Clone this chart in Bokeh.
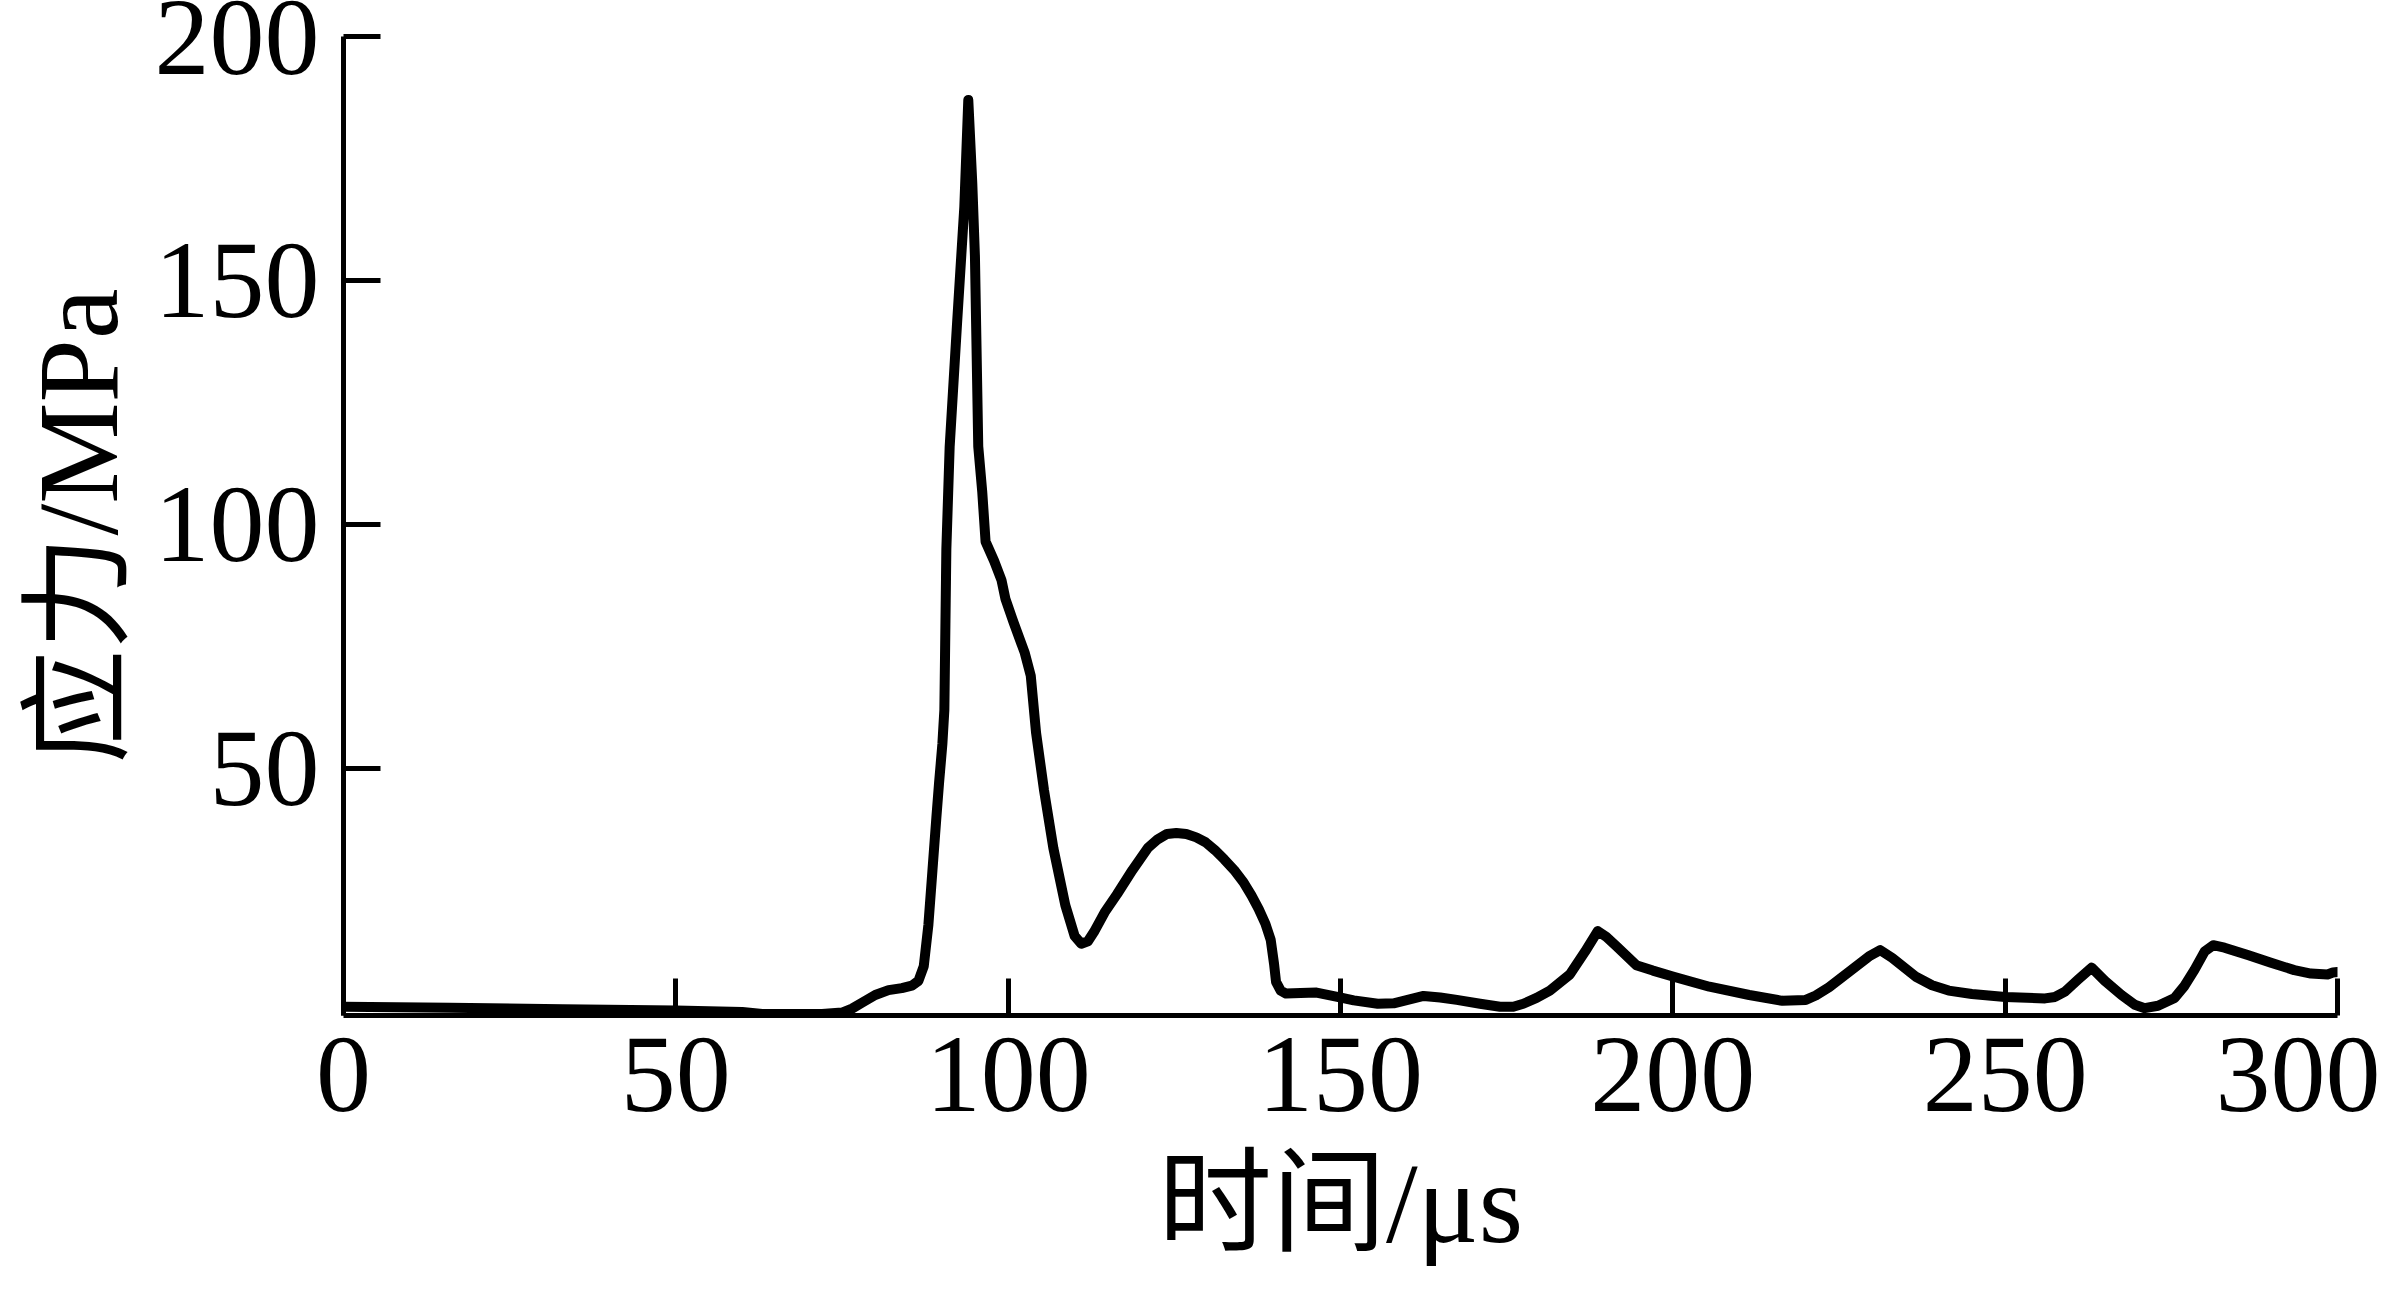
from bokeh.plotting import figure
from bokeh.models import Range1d, FixedTicker
from bokeh.embed import file_html
from bokeh.resources import INLINE

# data (time in µs, stress in MPa)
time_us = [0, 16, 33, 50, 60, 63, 72, 75, 76.5, 78, 80, 82, 84, 85.5, 86.5, 87.3, 88, 88.6,
           89.2, 89.6, 90.1, 90.4, 90.7, 91.2, 92.3, 93.4, 94.0, 94.6, 95.0, 95.5, 96.1, 96.6,
           97.9, 99.0, 99.6, 100.8, 102.5, 103.4, 104.2, 105.4, 106.8, 108.6, 110, 111, 112,
           112.9, 114.5, 116.4, 118.7, 121, 122.5, 123.9, 125.3, 126.8, 128.3, 129.7, 131.1,
           132.5, 134, 135.4, 136.6, 137.7, 138.7, 139.5, 140, 140.3, 141, 141.8, 144, 146.4,
           149.9, 152, 155.6, 158, 162.5, 165, 167.5, 171, 174, 176, 177.5, 179.5, 181.5, 184.5,
           186.8, 188.7, 190, 191.5, 194.5, 197, 200, 205.5, 211.5, 216.5, 220, 221.5, 223.5,
           227.5, 229.5, 231.2, 233, 236.5, 239, 241.5, 245, 250, 256, 257.5, 259, 261, 263,
           265, 267.5, 269.5, 271, 273, 275.5, 277, 278.5, 280, 281.3, 283, 286.5, 290, 293.5,
           296, 298.5, 299.3, 300]
stress_mpa = [1.2, 1.0, 0.7, 0.4, 0.1, -0.3, -0.3, 0.0, 0.8, 2.0, 3.6, 4.6, 5.0, 5.5, 6.5, 9.5,
              18, 29, 40, 47, 55, 62, 95, 116, 141, 165, 187, 170, 155, 116, 106.7, 96.5, 92.5,
              88.6, 84.7, 80, 73.7, 69, 57.3, 45.5, 33.7, 22, 15.7, 14.1, 14.6, 16.5, 20.5, 24.3,
              29.2, 33.7, 35.5, 36.6, 36.8, 36.6, 35.9, 34.9, 33.3, 31.4, 29.2, 26.7, 24, 21.2,
              18.2, 14.9, 10, 6.3, 4.5, 3.9, 4.0, 4.1, 3.1, 2.5, 1.8, 1.9, 3.4, 3.1, 2.6, 1.8, 1.2,
              1.2, 1.8, 3.0, 4.5, 7.8, 12.5, 16.7, 15.5, 13.6, 9.7, 8.6, 7.4, 5.3, 3.6, 2.4, 2.6,
              3.5, 5.2, 9.4, 11.5, 12.8, 11.2, 7.4, 5.6, 4.5, 3.8, 3.2, 2.9, 3.2, 4.3, 6.8, 9.2,
              6.5, 3.6, 1.6, 0.9, 1.4, 3.0, 5.5, 8.8, 12.5, 13.8, 13.3, 11.8, 10.2, 8.7, 8.0, 7.8,
              8.2, 8.3]

x_ticks = [0, 50, 100, 150, 200, 250, 300]
y_ticks = [50, 100, 150, 200]
x_label = "时间/μs"
y_label = "应力/MPa"

FONT = "'Liberation Serif', 'Noto Sans CJK SC'"

p = figure(width=2380, height=1285, output_backend="svg", toolbar_location=None,
           x_range=Range1d(0, 300), y_range=Range1d(-0.6, 200),
           min_border_left=343, min_border_right=43, min_border_top=36, min_border_bottom=270)
p.outline_line_color = None
p.xgrid.visible = False
p.ygrid.visible = False
p.background_fill_color = "white"
p.border_fill_color = "white"

p.line(time_us, stress_mpa, line_color="black", line_width=10, line_join="round", line_cap="round")

for ax, ticks in ((p.xaxis[0], x_ticks), (p.yaxis[0], y_ticks)):
    ax.ticker = FixedTicker(ticks=ticks)
    ax.minor_tick_line_color = None
    ax.major_tick_in = 37
    ax.major_tick_out = 0
    ax.major_tick_line_width = 5
    ax.major_tick_line_color = "black"
    ax.axis_line_width = 5
    ax.axis_line_color = "black"
    ax.major_label_text_font = FONT
    ax.major_label_text_font_size = "110px"
    ax.major_label_text_color = "black"
    ax.axis_label_text_font = FONT
    ax.axis_label_text_font_size = "114px"
    ax.axis_label_text_font_style = "normal"
    ax.axis_label_text_color = "black"

p.xaxis.axis_label = x_label
p.yaxis.axis_label = y_label
p.xaxis.major_label_standoff = 22
p.yaxis.major_label_standoff = 24
p.xaxis.axis_label_standoff = 26
p.yaxis.axis_label_standoff = 10

open("out.html", "w").write(file_html(p, INLINE))
